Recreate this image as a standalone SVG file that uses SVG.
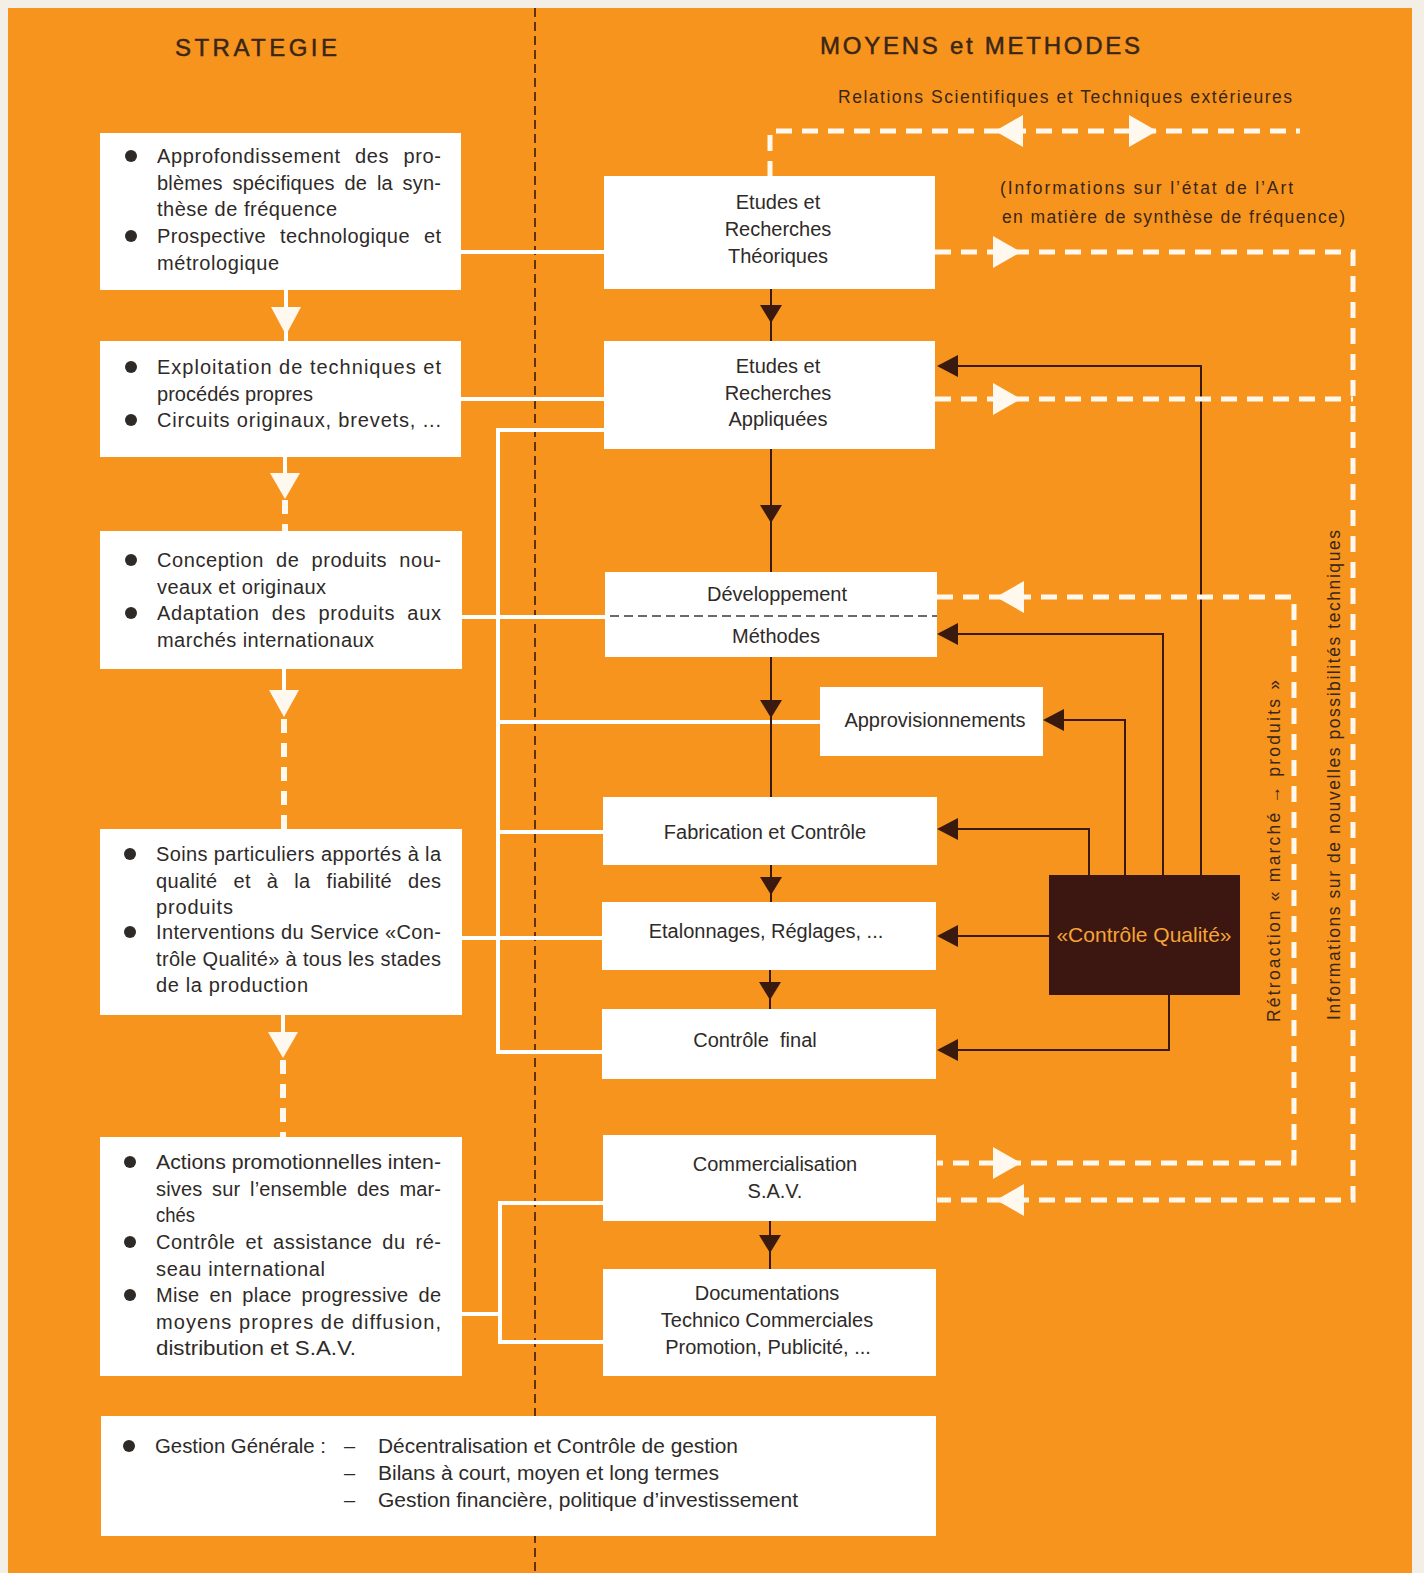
<svg xmlns="http://www.w3.org/2000/svg" width="1424" height="1573" viewBox="0 0 1424 1573">
<style>
.bg{fill:#F7941E}
.box{fill:#FFFFFF}
.lt{font-family:"Liberation Sans",Arial,sans-serif;font-size:20px;fill:#2e2a28}
.ct{font-family:"Liberation Sans",Arial,sans-serif;font-size:20px;fill:#2e2a28;text-anchor:middle}
.hd{font-family:"Liberation Sans",Arial,sans-serif;font-size:24px;fill:#3a2616;stroke:#3a2616;stroke-width:0.5}
.sm{font-family:"Liberation Sans",Arial,sans-serif;font-size:17.5px;fill:#3a2616}
.cq{font-family:"Liberation Sans",Arial,sans-serif;font-size:21px;fill:#F7A436;text-anchor:middle}
.bul{fill:#2e2a28}
.wl{stroke:#FFFFFF;stroke-width:4;fill:none}
.wd{stroke:#FFF8EE;stroke-width:5;fill:none;stroke-dasharray:16 10}
.wdl{stroke:#FFF8EE;stroke-width:6;fill:none;stroke-dasharray:14 10}
.wa{fill:#FFF8EE}
.dl{stroke:#3a1a0e;stroke-width:2;fill:none}
.da{fill:#3a1a0e}
.cl{stroke:#3a1a0e;stroke-width:1.6;stroke-dasharray:9 5;fill:none}
</style>
<rect x="0" y="0" width="1424" height="1573" fill="#F3EEE6"/>
<rect class="bg" x="8" y="8" width="1404" height="1565"/>

<!-- center divider -->
<line class="cl" x1="535" y1="8" x2="535" y2="1573"/>

<!-- headers -->
<g id="headers">
<text class="hd" x="175" y="56" textLength="162" lengthAdjust="spacing">STRATEGIE</text>
<text class="hd" x="820" y="54" textLength="320" lengthAdjust="spacing">MOYENS et METHODES</text>
<text class="sm" x="838" y="103" textLength="454" lengthAdjust="spacing">Relations Scientifiques et Techniques extérieures</text>
<text class="sm" x="1000" y="194" textLength="293" lengthAdjust="spacing">(Informations sur l’état de l’Art</text>
<text class="sm" x="1002" y="223" textLength="343" lengthAdjust="spacing">en matière de synthèse de fréquence)</text>
<text class="sm" transform="translate(1280,851) rotate(-90)" text-anchor="middle" textLength="342" lengthAdjust="spacing">Rétroaction  « marché → produits »</text>
<text class="sm" transform="translate(1340,775) rotate(-90)" text-anchor="middle" textLength="490" lengthAdjust="spacing">Informations sur de nouvelles possibilités techniques</text>
</g>

<!-- connectors -->
<g id="connectors">
<line class="wl" x1="461" y1="252" x2="604" y2="252"/>
<line class="wl" x1="461" y1="399" x2="604" y2="399"/>
<line class="wl" x1="462" y1="617" x2="605" y2="617"/>
<line class="wl" x1="462" y1="938" x2="602" y2="938"/>
<polyline class="wl" points="604,430 498,430 498,1052 602,1052"/>
<line class="wl" x1="498" y1="722" x2="820" y2="722"/>
<line class="wl" x1="498" y1="832" x2="603" y2="832"/>
<line class="wl" x1="462" y1="1314" x2="500" y2="1314"/>
<polyline class="wl" points="603,1203 500,1203 500,1342 603,1342"/>

<line class="wl" x1="286" y1="290" x2="286" y2="341" stroke-width="6"/>
<polygon class="wa" points="271,307 301,307 286,335"/>
<line class="wl" x1="285" y1="457" x2="285" y2="475" stroke-width="6"/>
<polygon class="wa" points="270,473 300,473 285,499"/>
<line class="wdl" x1="285" y1="500" x2="285" y2="531"/>
<line class="wl" x1="284" y1="669" x2="284" y2="692" stroke-width="6"/>
<polygon class="wa" points="269,690 299,690 284,717"/>
<line class="wdl" x1="284" y1="719" x2="284" y2="829"/>
<line class="wl" x1="283" y1="1015" x2="283" y2="1034" stroke-width="6"/>
<polygon class="wa" points="268,1032 298,1032 283,1058"/>
<line class="wdl" x1="283" y1="1060" x2="283" y2="1137"/>

<line class="dl" x1="771" y1="289" x2="771" y2="341"/>
<polygon class="da" points="760,305 782,305 771,323"/>
<line class="dl" x1="771" y1="449" x2="771" y2="572"/>
<polygon class="da" points="760,505 782,505 771,523"/>
<line class="dl" x1="771" y1="657" x2="771" y2="797"/>
<polygon class="da" points="760,700 782,700 771,718"/>
<line class="dl" x1="771" y1="865" x2="771" y2="902"/>
<polygon class="da" points="760,877 782,877 771,895"/>
<line class="dl" x1="770" y1="970" x2="770" y2="1009"/>
<polygon class="da" points="759,982 781,982 770,1000"/>
<line class="dl" x1="770" y1="1221" x2="770" y2="1269"/>
<polygon class="da" points="759,1235 781,1235 770,1253"/>

<polyline class="dl" points="1201,875 1201,366 950,366"/>
<polygon class="da" points="937,366 958,355 958,377"/>
<polyline class="dl" points="1163,875 1163,634 950,634"/>
<polygon class="da" points="937,634 958,623 958,645"/>
<polyline class="dl" points="1125,875 1125,720 1056,720"/>
<polygon class="da" points="1043,720 1064,709 1064,731"/>
<polyline class="dl" points="1089,875 1089,829 950,829"/>
<polygon class="da" points="937,829 958,818 958,840"/>
<line class="dl" x1="1049" y1="936" x2="950" y2="936"/>
<polygon class="da" points="937,936 958,925 958,947"/>
<polyline class="dl" points="1169,995 1169,1050 950,1050"/>
<polygon class="da" points="937,1050 958,1039 958,1061"/>

<polyline class="wd" points="770,177 770,131 1300,131"/>
<polygon class="wa" points="995,131 1023,115 1023,147"/>
<polygon class="wa" points="1157,131 1129,115 1129,147"/>
<polyline class="wd" points="935,252 1353,252 1353,1200 937,1200"/>
<polygon class="wa" points="1021,252 993,236 993,268"/>
<polygon class="wa" points="996,1200 1024,1184 1024,1216"/>
<line class="wd" x1="935" y1="399" x2="1353" y2="399"/>
<polygon class="wa" points="1021,399 993,383 993,415"/>
<polyline class="wd" points="937,597 1294,597 1294,1163 937,1163"/>
<polygon class="wa" points="996,597 1024,581 1024,613"/>
<polygon class="wa" points="1021,1163 993,1147 993,1179"/>
</g>

<g id="s1">
<rect class="box" x="100" y="133" width="361" height="157"/>
<circle class="bul" cx="131" cy="156" r="6"/>
<circle class="bul" cx="131" cy="236" r="6"/>
<text class="lt" x="157" y="163" textLength="284" lengthAdjust="spacing" word-spacing="8">Approfondissement des pro-</text>
<text class="lt" x="157" y="190" textLength="284" lengthAdjust="spacing" word-spacing="4">blèmes spécifiques de la syn-</text>
<text class="lt" x="157" y="216" textLength="180" lengthAdjust="spacing">thèse de fréquence</text>
<text class="lt" x="157" y="243" textLength="284" lengthAdjust="spacing" word-spacing="8">Prospective technologique et</text>
<text class="lt" x="157" y="270" textLength="122" lengthAdjust="spacing">métrologique</text>
</g>
<g id="s2">
<rect class="box" x="100" y="341" width="361" height="116"/>
<circle class="bul" cx="131" cy="367" r="6"/>
<circle class="bul" cx="131" cy="420" r="6"/>
<text class="lt" x="157" y="374" textLength="284" lengthAdjust="spacing">Exploitation de techniques et</text>
<text class="lt" x="157" y="401" textLength="156" lengthAdjust="spacing">procédés propres</text>
<text class="lt" x="157" y="427" textLength="284" lengthAdjust="spacing">Circuits originaux, brevets, ...</text>
</g>
<g id="s3">
<rect class="box" x="100" y="531" width="362" height="138"/>
<circle class="bul" cx="131" cy="560" r="6"/>
<circle class="bul" cx="131" cy="613" r="6"/>
<text class="lt" x="157" y="567" textLength="284" lengthAdjust="spacing" word-spacing="6">Conception de produits nou-</text>
<text class="lt" x="157" y="594" textLength="169" lengthAdjust="spacing">veaux et originaux</text>
<text class="lt" x="157" y="620" textLength="284" lengthAdjust="spacing" word-spacing="6">Adaptation des produits aux</text>
<text class="lt" x="157" y="647" textLength="217" lengthAdjust="spacing">marchés internationaux</text>
</g>
<g id="s4">
<rect class="box" x="100" y="829" width="362" height="186"/>
<circle class="bul" cx="130" cy="854" r="6"/>
<circle class="bul" cx="130" cy="932" r="6"/>
<text class="lt" x="156" y="861" textLength="285" lengthAdjust="spacing">Soins particuliers apportés à la</text>
<text class="lt" x="156" y="888" textLength="285" lengthAdjust="spacing" word-spacing="10">qualité et à la fiabilité des</text>
<text class="lt" x="156" y="914" textLength="77" lengthAdjust="spacing">produits</text>
<text class="lt" x="156" y="939" textLength="285" lengthAdjust="spacing">Interventions du Service «Con-</text>
<text class="lt" x="156" y="966" textLength="285" lengthAdjust="spacing">trôle Qualité» à tous les stades</text>
<text class="lt" x="156" y="992" textLength="152" lengthAdjust="spacing">de la production</text>
</g>
<g id="s5">
<rect class="box" x="100" y="1137" width="362" height="239"/>
<circle class="bul" cx="130" cy="1162" r="6"/>
<circle class="bul" cx="130" cy="1242" r="6"/>
<circle class="bul" cx="130" cy="1295" r="6"/>
<text class="lt" x="156" y="1169" textLength="285" lengthAdjust="spacingAndGlyphs">Actions promotionnelles inten-</text>
<text class="lt" x="156" y="1196" textLength="285" lengthAdjust="spacing" word-spacing="4">sives sur l’ensemble des mar-</text>
<text class="lt" x="156" y="1222" textLength="39" lengthAdjust="spacingAndGlyphs">chés</text>
<text class="lt" x="156" y="1249" textLength="285" lengthAdjust="spacing" word-spacing="4">Contrôle et assistance du ré-</text>
<text class="lt" x="156" y="1276" textLength="169" lengthAdjust="spacing">seau international</text>
<text class="lt" x="156" y="1302" textLength="285" lengthAdjust="spacing" word-spacing="4">Mise en place progressive de</text>
<text class="lt" x="156" y="1329" textLength="285" lengthAdjust="spacing">moyens propres de diffusion,</text>
<text class="lt" x="156" y="1355" textLength="200" lengthAdjust="spacingAndGlyphs">distribution et S.A.V.</text>
</g>
<g id="s6">
<rect class="box" x="101" y="1416" width="835" height="120"/>
<circle class="bul" cx="129" cy="1446" r="6"/>
<text class="lt" x="155" y="1453" textLength="171" lengthAdjust="spacingAndGlyphs">Gestion Générale :</text>
<text class="lt" x="344" y="1453">–</text>
<text class="lt" x="344" y="1480">–</text>
<text class="lt" x="344" y="1507">–</text>
<text class="lt" x="378" y="1453" textLength="360" lengthAdjust="spacingAndGlyphs">Décentralisation et Contrôle de gestion</text>
<text class="lt" x="378" y="1480" textLength="341" lengthAdjust="spacingAndGlyphs">Bilans à court, moyen et long termes</text>
<text class="lt" x="378" y="1507" textLength="420" lengthAdjust="spacingAndGlyphs">Gestion financière, politique d’investissement</text>
</g>

<g id="m1">
<rect class="box" x="604" y="176" width="331" height="113"/>
<text class="ct" x="778" y="209">Etudes et</text>
<text class="ct" x="778" y="236">Recherches</text>
<text class="ct" x="778" y="263">Théoriques</text>
</g>
<g id="m2">
<rect class="box" x="604" y="341" width="331" height="108"/>
<text class="ct" x="778" y="373">Etudes et</text>
<text class="ct" x="778" y="400">Recherches</text>
<text class="ct" x="778" y="426">Appliquées</text>
</g>
<g id="m3">
<rect class="box" x="605" y="572" width="332" height="85"/>
<line x1="610" y1="616" x2="937" y2="616" stroke="#3a3a3a" stroke-width="1.4" stroke-dasharray="9 5"/>
<text class="ct" x="777" y="601">Développement</text>
<text class="ct" x="776" y="643">Méthodes</text>
</g>
<g id="m4">
<rect class="box" x="820" y="687" width="223" height="69"/>
<text class="ct" x="935" y="727">Approvisionnements</text>
</g>
<g id="m5">
<rect class="box" x="603" y="797" width="334" height="68"/>
<text class="ct" x="765" y="839">Fabrication et Contrôle</text>
</g>
<g id="m6">
<rect class="box" x="602" y="902" width="334" height="68"/>
<text class="ct" x="766" y="938">Etalonnages, Réglages, ...</text>
</g>
<g id="m7">
<rect class="box" x="602" y="1009" width="334" height="70"/>
<text class="ct" x="755" y="1047" xml:space="preserve">Contrôle  final</text>
</g>
<g id="m8">
<rect class="box" x="603" y="1135" width="333" height="86"/>
<text class="ct" x="775" y="1171">Commercialisation</text>
<text class="ct" x="775" y="1198">S.A.V.</text>
</g>
<g id="m9">
<rect class="box" x="603" y="1269" width="333" height="107"/>
<text class="ct" x="767" y="1300">Documentations</text>
<text class="ct" x="767" y="1327">Technico Commerciales</text>
<text class="ct" x="768" y="1354">Promotion, Publicité, ...</text>
</g>
<g id="cq">
<rect x="1049" y="875" width="191" height="120" fill="#3c1712"/>
<text class="cq" x="1144" y="942">«Contrôle Qualité»</text>
</g>
</svg>
